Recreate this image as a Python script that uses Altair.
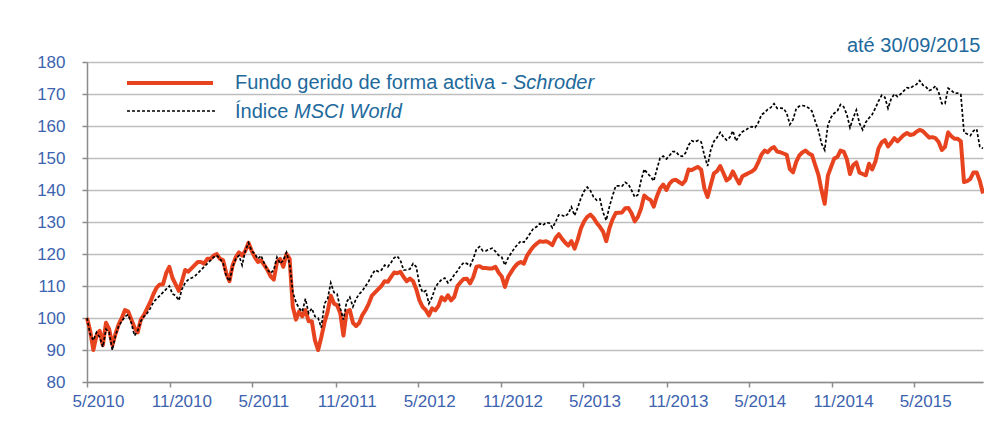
import altair as alt
import pandas as pd

# ---------------- data ----------------
start_date = "2010-05-01"
end_date = "2015-09-30"

fund = [
    100, 96, 90, 94.5, 96, 91.5, 98.5, 96.5, 91.5, 95, 98, 100, 102.5, 102, 99.5, 97, 95.5, 99.5, 101, 103,
    105, 107.5, 109.5, 110.5, 110.5, 114, 116, 112.5, 110.5, 108.5, 111.5, 115, 114.5, 115.5, 116.5, 117.5,
    117.5, 117, 118.5, 118.5, 119.5, 120, 118.5, 118, 114, 111.5, 116.5, 119, 120.5,
    119.5, 121, 123.5, 121, 119, 117.5, 118, 116.5, 115, 113, 112, 117.5, 118.5, 116, 120, 118.5, 103.5, 99.5,
    102, 100.5, 102.5, 99, 99, 93, 90, 94, 98.5, 102, 107, 104.5, 104, 101.5, 94.5, 102, 102.5, 98.5, 97.5,
    98.5, 101, 102.5, 104.5, 107, 108, 109, 110, 111.5, 111.3,
    112.8, 114.2, 114, 114.4, 112.8, 111.5, 112.3, 111.5, 109, 105.5, 103.5, 102.5, 100.8, 103, 102.4, 103.8,
    106.5, 105.5, 107.1, 105.5, 106.6, 110, 111.2, 112.2, 112.3, 110.8, 112.8, 116, 116.2, 115.6, 115.6, 115.5,
    115.5, 116, 114.2, 113, 109.7, 112.8, 114.4, 115.9, 117, 117.5, 117, 119.5, 121, 122.3, 123.2,
    124, 123.8, 124, 123.5, 122.8, 125, 126.2, 124.8, 123.6, 122.6, 124, 121.7, 124.5, 128, 130.2, 131.6,
    132.3, 131.3, 129.7, 128.5, 127, 124, 128, 130.8, 132.8, 132.9, 133, 134.3, 134.4, 132.7, 130.2, 131.6,
    134.2, 138.3, 137.4, 136.9, 134.8, 138, 140.5, 141.7, 140, 142, 143, 143.2, 142.5, 141.8,
    143, 146.4, 146.2, 146.8, 147.2, 146.3, 140.5, 137.8, 141.6, 145.2, 145.9, 147.5, 145.3, 143, 143.7, 145.8,
    143.8, 142, 144.3, 144.8, 145.3, 145.8, 146.6, 148.6, 151, 152.3, 151.8, 152.9, 153.4, 152, 151.8, 151.4,
    151, 146.5, 145.5, 148.8, 150.8, 151.8, 152.3, 151.4, 150.9, 147.8, 144.8, 139.9, 135.7, 144.5, 147.2,
    149.8, 150.3, 152.3, 152, 149.6, 145, 147.8, 148.6, 145.4, 145, 144.6, 148.2, 146.4, 148.8, 153, 154.9,
    155.6, 153.6, 154.8, 156.2, 155.2, 156.2, 157.2, 157.8, 157.2, 157.4, 158.2, 158.8, 158.4, 157.4, 156.4,
    156.5, 156.2, 155, 152.5, 153.5, 158, 156.8, 156, 156, 155.2, 142.5, 142.8, 143.5, 145.5, 145.5, 142.8, 138.9,
]

msci = [
    100, 95, 93, 95.5, 94, 91, 96.5, 95.5, 90, 94.5, 97.5, 99, 100.5, 101, 98.5, 94.5, 96, 99, 100.5, 101.5,
    103, 105, 106, 107, 108, 109, 110, 107.5, 107, 105.5, 109, 111, 112, 112.5, 113, 114, 115, 116, 117, 118,
    119, 119.5, 118.5, 117, 113, 111.5, 116, 118.5, 119.5,
    116.5, 121, 123.5, 121, 120, 118.5, 119.5, 117, 115, 114, 115, 119, 117, 118, 120.5, 117, 108, 105, 103,
    102, 106, 101.5, 103, 100.5, 100, 97, 104.5, 106, 111, 108, 107.5, 103, 99.5, 105, 106.5, 103.5, 106, 107.5,
    108.5, 110, 111.5, 113.5, 115, 114.5, 115, 116.5, 116,
    117.3, 118.8, 119.3, 118, 115, 115, 115.3, 117, 116, 110.5, 108, 108.5, 104.5, 106.5, 109.5, 111, 112,
    112.5, 111, 112, 113.5, 114.7, 116.3, 117.3, 117, 116.3, 118.5, 121.5, 122.3, 121, 121, 121.5, 121.8,
    120.8, 119.6, 119, 116.5, 118.8, 120.3, 121.8, 123, 124, 123.7, 125, 126.5, 128, 128.5,
    129.5, 129, 129.8, 129.7, 128.2, 130, 132.2, 132.1, 131.7, 132.6, 134.7, 132, 134.5, 137.5, 139.6, 140.9,
    139.8, 137.8, 136.8, 137.2, 133, 130.5, 134.8, 138.2, 141.3, 141.3, 141.2, 142.4, 141.8, 139.9, 137.8,
    138.5, 143, 146.5, 145.2, 144.2, 142.8, 146.5, 150, 150.6, 149.7, 150.8, 152, 152, 150.8, 150.5,
    151.5, 154, 155.4, 155, 155.5, 155, 150.8, 147.5, 152.5, 155.2, 156.4, 158, 156.6, 155.6, 156.4, 158.5,
    155.3, 157, 158.2, 158.7, 159.4, 159.8, 159.5, 161, 163.5, 164.2, 165.2, 165.8, 167, 165.5, 165.6, 165.5,
    164, 160.5, 162, 165.4, 166.2, 166.4, 166.2, 165.6, 164.6, 161.5, 158.7, 154.5, 152.5, 160.2, 162.7,
    164, 164.7, 166.7, 166, 163.6, 159.5, 162.5, 165, 160.8, 158.8, 161.2, 162.5, 163.6, 165.6, 167.8, 169.6,
    169, 165.5, 168.5, 170, 169.2, 170, 171, 172, 171.8, 172.5, 173, 174.2, 172.8, 172.2, 171.1, 171.5, 172.5,
    170.5, 167, 167, 171.8, 171.1, 170.2, 170.3, 169.8, 158, 157.5, 157, 158.5, 159, 153.5, 153,
]

tick_months = [(2010, 5), (2010, 11), (2011, 5), (2011, 11), (2012, 5), (2012, 11),
               (2013, 5), (2013, 11), (2014, 5), (2014, 11), (2015, 5)]
y_ticks = [80, 90, 100, 110, 120, 130, 140, 150, 160, 170, 180]
legend_plain = ["Fundo gerido de forma activa - ", "Índice "]
legend_italic = ["Schroder", "MSCI World"]
title_text = "até 30/09/2015"

# ---------------- styling ----------------
FONT = "Liberation Sans"
LABEL_BLUE = "#3D63B0"
TEXT_BLUE = "#21699C"
RED = "#E8431F"
AXIS_GREY = "#8C8C8C"

dates = pd.date_range(start_date, end_date, periods=len(fund))
df = pd.DataFrame({"date": dates, "fund": fund, "msci": msci})

x_scale = alt.Scale(domain=[alt.DateTime(year=2010, month=5, date=1),
                            alt.DateTime(year=2015, month=9, date=30)])
y_scale = alt.Scale(domain=[80, 180], nice=False, zero=False)

x_axis = alt.Axis(
    values=[alt.DateTime(year=y, month=m, date=1) for y, m in tick_months],
    format="%-m/%Y", grid=False, tickSize=5, labelPadding=6, labelOffset=11,
    labelFlush=False, labelOverlap=False,
)
y_axis = alt.Axis(values=y_ticks, grid=True, tickSize=5, labelPadding=17, labelOverlap=False)

red_line = alt.Chart(df).mark_line(color=RED, strokeWidth=4, strokeJoin="round").encode(
    x=alt.X("date:T", scale=x_scale, axis=x_axis, title=None),
    y=alt.Y("fund:Q", scale=y_scale, axis=y_axis, title=None),
)
black_line = alt.Chart(df).mark_line(color="black", strokeWidth=1.7, strokeDash=[3, 2]).encode(
    x=alt.X("date:T", scale=x_scale, axis=x_axis, title=None),
    y=alt.Y("msci:Q", scale=y_scale, axis=y_axis, title=None),
)

one = pd.DataFrame({"k": [0]})
sw_red = alt.Chart(one).mark_rule(color=RED, strokeWidth=4).encode(
    x=alt.value(40), x2=alt.value(126), y=alt.value(21))
sw_black = alt.Chart(one).mark_rule(color="black", strokeWidth=1.6, strokeDash=[3, 2]).encode(
    x=alt.value(40), x2=alt.value(128), y=alt.value(49))

def legend_text(label, xpos, ypos, italic):
    d = pd.DataFrame({"t": [label]})
    kw = dict(align="left", baseline="middle", font=FONT, fontSize=20, color=TEXT_BLUE)
    if italic:
        kw["fontStyle"] = "italic"
    return alt.Chart(d).mark_text(**kw).encode(text="t:N", x=alt.value(xpos), y=alt.value(ypos))

t1 = legend_text(legend_plain[0], 148, 21, False)
t1i = legend_text(legend_italic[0], 426, 21, True)
t2 = legend_text(legend_plain[1], 148, 50, False)
t2i = legend_text(legend_italic[1], 207, 50, True)

chart = alt.layer(red_line, black_line, sw_red, sw_black, t1, t1i, t2, t2i).properties(
    width=896,
    height=320,
    autosize=alt.AutoSizeParams(type="none"),
    padding={"left": 79, "top": 54, "right": 1, "bottom": 38},
    title=alt.TitleParams(text=title_text, anchor="end", font=FONT, fontSize=20,
                          fontWeight="normal", color=TEXT_BLUE, offset=8, dx=-6, dy=11),
).configure_view(stroke="transparent").configure_axis(
    labelFont=FONT, labelFontSize=17, labelColor=LABEL_BLUE,
    domainColor=AXIS_GREY, tickColor=AXIS_GREY, domainWidth=1.5, tickWidth=1.5,
    gridColor="#BEBEBE", gridWidth=1.5,
)

chart.save("out.html", embed_options={"renderer": "svg", "actions": False})
